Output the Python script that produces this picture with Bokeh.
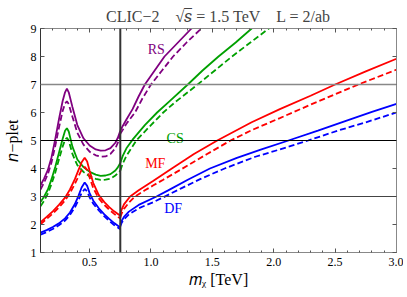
from bokeh.plotting import figure
from bokeh.models import Span, LinearAxis, FixedTicker, Range1d
from bokeh.embed import file_html
from bokeh.resources import INLINE
from bokeh.core.properties import value

# ---------------- data ----------------
m_left_scalar = [0.10, 0.13, 0.16, 0.19, 0.22, 0.25, 0.28, 0.30, 0.315, 0.33, 0.36,
                 0.40, 0.45, 0.50, 0.55, 0.59, 0.63, 0.67, 0.71, 0.73, 0.75]
rs_solid_left = [3.40, 3.65, 3.95, 4.40, 5.05, 5.75, 6.40, 6.72, 6.85, 6.72, 6.20,
                 5.55, 5.08, 4.82, 4.68, 4.64, 4.65, 4.73, 4.92, 5.10, 5.35]
rs_dash_left = [3.25, 3.50, 3.80, 4.22, 4.80, 5.45, 6.05, 6.32, 6.40, 6.30, 5.85,
                5.28, 4.85, 4.60, 4.47, 4.42, 4.43, 4.52, 4.72, 4.92, 5.24]
cs_solid_left = [2.80, 3.00, 3.25, 3.62, 4.05, 4.55, 5.05, 5.35, 5.44, 5.32, 4.78,
                 4.32, 4.05, 3.88, 3.78, 3.74, 3.75, 3.80, 3.93, 4.04, 4.20]
cs_dash_left = [2.65, 2.85, 3.10, 3.45, 3.85, 4.32, 4.78, 5.02, 5.10, 5.00, 4.52,
                4.12, 3.88, 3.72, 3.63, 3.59, 3.60, 3.64, 3.75, 3.83, 3.92]

m_left_fermion = [0.10, 0.15, 0.20, 0.25, 0.30, 0.34, 0.38, 0.41, 0.435, 0.46, 0.48,
                  0.50, 0.53, 0.575, 0.62, 0.66, 0.70, 0.75]
mf_solid_left = [2.08, 2.27, 2.47, 2.70, 2.96, 3.25, 3.62, 3.95, 4.22, 4.38, 4.25,
                 3.92, 3.48, 3.05, 2.80, 2.62, 2.47, 2.31]
mf_dash_left = [2.01, 2.20, 2.39, 2.61, 2.86, 3.12, 3.45, 3.73, 3.95, 4.06, 3.95,
                3.68, 3.30, 2.93, 2.70, 2.53, 2.38, 2.21]
df_solid_left = [1.71, 1.80, 1.91, 2.04, 2.22, 2.43, 2.73, 3.03, 3.32, 3.50, 3.38,
                 3.12, 2.85, 2.58, 2.36, 2.20, 2.05, 1.89]
df_dash_left = [1.64, 1.73, 1.84, 1.97, 2.14, 2.34, 2.61, 2.88, 3.12, 3.27, 3.18,
                2.97, 2.74, 2.50, 2.29, 2.13, 1.98, 1.83]

rs_solid_m = [0.75, 0.77, 0.80, 0.85, 0.90, 0.95, 1.03, 1.11, 1.22, 1.33, 1.45]
rs_solid_right = [5.35, 5.52, 5.75, 6.12, 6.58, 7.0, 7.5, 8.0, 8.5, 9.0, 9.5]
rs_dash_m = [0.75, 0.77, 0.80, 0.87, 0.93, 1.00, 1.09, 1.18, 1.29, 1.41, 1.55]
rs_dash_right = [5.24, 5.38, 5.60, 6.0, 6.5, 7.0, 7.5, 8.0, 8.5, 9.0, 9.5]

cs_solid_m = [0.75, 0.77, 0.80, 0.85, 0.95, 1.05, 1.15, 1.30, 1.42, 1.55, 1.69, 1.82, 1.95]
cs_solid_right = [4.20, 4.45, 4.72, 5.03, 5.55, 6.0, 6.4, 7.0, 7.5, 8.0, 8.5, 9.0, 9.5]
cs_dash_m = [0.75, 0.77, 0.80, 0.88, 1.00, 1.10, 1.20, 1.38, 1.52, 1.66, 1.81, 1.96, 2.10]
cs_dash_right = [3.92, 4.18, 4.45, 5.0, 5.55, 6.0, 6.38, 7.0, 7.5, 8.0, 8.5, 9.0, 9.5]

mf_solid_m = [0.75, 0.76, 0.78, 0.83, 0.90, 1.02, 1.17, 1.35, 1.54, 1.82, 2.05, 2.30, 2.50, 2.75, 3.0]
mf_solid_right = [2.38, 2.52, 2.72, 3.0, 3.22, 3.56, 4.0, 4.52, 5.0, 5.65, 6.12, 6.6, 7.0, 7.47, 7.92]
mf_dash_m = [0.75, 0.76, 0.78, 0.82, 0.87, 0.95, 1.02, 1.10, 1.25, 1.45, 1.64, 1.82, 2.05, 2.30, 2.50, 2.70, 3.0]
mf_dash_right = [2.25, 2.38, 2.56, 2.78, 3.0, 3.22, 3.40, 3.60, 3.98, 4.50, 4.98, 5.37, 5.8, 6.28, 6.65, 7.02, 7.53]

df_solid_m = [0.75, 0.76, 0.78, 0.82, 0.90, 1.045, 1.14, 1.30, 1.48, 1.70, 1.90, 2.12, 2.36, 2.60, 2.80, 3.0]
df_solid_right = [2.0, 2.12, 2.27, 2.46, 2.7, 3.0, 3.22, 3.6, 4.0, 4.38, 4.68, 5.0, 5.35, 5.72, 6.02, 6.31]
df_dash_m = [0.75, 0.76, 0.78, 0.82, 0.90, 1.02, 1.10, 1.25, 1.40, 1.60, 1.85, 2.05, 2.28, 2.52, 2.75, 3.0]
df_dash_right = [1.93, 2.05, 2.18, 2.36, 2.58, 2.8, 2.97, 3.3, 3.62, 4.0, 4.42, 4.68, 5.0, 5.35, 5.65, 6.0]

x_ticks = [0.5, 1.0, 1.5, 2.0, 2.5, 3.0]
x_tick_labels = ["0.5", "1.0", "1.5", "2.0", "2.5", "3.0"]
y_ticks = [1, 2, 3, 4, 5, 6, 7, 8, 9]
y_tick_labels = ["1", "2", "3", "4", "5", "6", "7", "8", "9"]

series_names = ["RS", "CS", "MF", "DF"]
series_colors = ["#800080", "#00a000", "#ff0000", "#0000ff"]
label_x = [1.043, 1.197, 1.035, 1.18]
label_y = [8.26, 5.06, 4.19, 2.57]

SP = "\u2003"
title_text = "CLIC\u22122" + SP + "\u221a\U0001D460\u0305 = 1.5 TeV" + SP + "L = 2/ab"
x_label = "\U0001D45A\u1D6A [TeV]"
y_label = "\U0001D45B\u2212plet"

threshold = 0.75
ref_lines = [3, 5, 7]

# ---------------- figure ----------------
W, H = 403, 293
BL, BR, BT, BB = 36, 7, 28, 41
X0, X1, Y0, Y1 = 0.1, 3.0, 1.0, 9.0
FONT = "Liberation Serif"

p = figure(width=W, height=H, x_range=Range1d(X0, X1), y_range=Range1d(Y0, Y1),
           output_backend="svg", toolbar_location=None, title=title_text,
           min_border_left=BL, min_border_right=BR, min_border_top=BT, min_border_bottom=BB)
p.outline_line_color = None
p.xgrid.visible = False
p.ygrid.visible = False
p.background_fill_color = "white"
p.border_fill_color = "white"

p.title.align = "center"
p.title.text_font = FONT
p.title.text_font_size = "16px"
p.title.text_font_style = "normal"
p.title.standoff = 8
p.title.offset = 0

minor_x = [round(0.1 * i, 1) for i in range(1, 31)]

def style_x(ax, show_labels):
    ax.ticker = FixedTicker(ticks=x_ticks, minor_ticks=minor_x)
    ax.major_tick_in = 4
    ax.major_tick_out = 0
    ax.minor_tick_in = 2
    ax.minor_tick_out = 0
    ax.axis_line_color = "#888888"
    ax.major_tick_line_color = "#555555"
    ax.minor_tick_line_color = "#555555"
    ax.major_label_text_font = FONT
    ax.major_label_text_font_size = "12px"
    ax.major_label_text_color = "black"
    if show_labels:
        ax.major_label_overrides = dict(zip(x_ticks, x_tick_labels))
        ax.major_label_standoff = 5
    else:
        ax.major_label_overrides = {t: "" for t in x_ticks}
        ax.major_label_standoff = 0

def style_y(ax, show_labels, line_color):
    ax.ticker = FixedTicker(ticks=y_ticks)
    ax.major_tick_in = 4
    ax.major_tick_out = 0
    ax.minor_tick_line_color = None
    ax.axis_line_color = line_color
    ax.major_tick_line_color = "#555555"
    ax.major_label_text_font = FONT
    ax.major_label_text_font_size = "12px"
    ax.major_label_text_color = "black"
    if show_labels:
        ax.major_label_overrides = dict(zip(y_ticks, y_tick_labels))
        ax.major_label_standoff = 4
    else:
        ax.major_label_overrides = {t: "" for t in y_ticks}
        ax.major_label_standoff = 0

style_x(p.xaxis[0], True)
style_y(p.yaxis[0], True, "#333333")

xa = p.xaxis[0]
xa.axis_label = x_label
xa.axis_label_text_font = FONT
xa.axis_label_text_font_size = "16px"
xa.axis_label_text_font_style = "normal"
xa.axis_label_standoff = 2
xa.axis_label_text_color = "black"

ya = p.yaxis[0]
ya.axis_label = y_label
ya.axis_label_text_font = FONT
ya.axis_label_text_font_size = "16px"
ya.axis_label_text_font_style = "normal"
ya.axis_label_standoff = 7
ya.axis_label_text_color = "black"

top_ax = LinearAxis()
style_x(top_ax, False)
p.add_layout(top_ax, "above")
right_ax = LinearAxis()
style_y(right_ax, False, "#888888")
p.add_layout(right_ax, "right")

ref_styles = {3: ("#444444", 1.0), 5: ("#000000", 1.0), 7: ("#888888", 1.5)}
for yl in ref_lines:
    c, w = ref_styles[yl]
    p.add_layout(Span(location=yl, dimension="width", line_color=c, line_width=w))
p.add_layout(Span(location=threshold, dimension="height", line_color="#333333", line_width=2))

LW = 1.8
DASH = "6 3"
curves = [
    (m_left_scalar, rs_solid_left, rs_dash_left, rs_solid_m, rs_solid_right, rs_dash_m, rs_dash_right),
    (m_left_scalar, cs_solid_left, cs_dash_left, cs_solid_m, cs_solid_right, cs_dash_m, cs_dash_right),
    (m_left_fermion, mf_solid_left, mf_dash_left, mf_solid_m, mf_solid_right, mf_dash_m, mf_dash_right),
    (m_left_fermion, df_solid_left, df_dash_left, df_solid_m, df_solid_right, df_dash_m, df_dash_right),
]
for (ml, sl, dl, sm, sr, dm, dr), col in zip(curves, series_colors):
    p.line(ml, sl, line_color=col, line_width=LW)
    p.line(ml, dl, line_color=col, line_width=LW, line_dash=DASH)
    p.line(sm, sr, line_color=col, line_width=LW)
    p.line(dm, dr, line_color=col, line_width=LW, line_dash=DASH)

p.text(x=label_x, y=label_y, text=series_names, text_color=series_colors,
       text_font=value(FONT), text_font_size="14px", text_align="center",
       text_baseline="middle")

open("out.html", "w").write(file_html(p, INLINE))
